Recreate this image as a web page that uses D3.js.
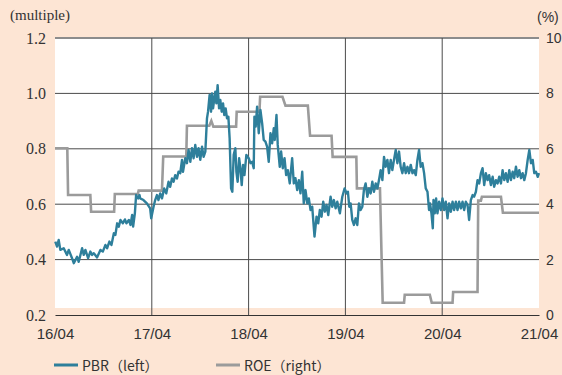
<!DOCTYPE html>
<html><head><meta charset="utf-8">
<script src="https://cdn.jsdelivr.net/npm/d3@7"></script>
<style>html,body{margin:0;padding:0;background:#fde5d4;}svg{display:block;}</style>
</head><body>
<svg id="c" width="562" height="375"></svg>
<script>
// ---- data (time as decimal year) ----
const xTickValues = [2016.25, 2017.25, 2018.25, 2019.25, 2020.25, 2021.25];
const xTickLabels = ["16/04", "17/04", "18/04", "19/04", "20/04", "21/04"];
const leftTicks = [0.2, 0.4, 0.6, 0.8, 1.0, 1.2];
const rightTicks = [0, 2, 4, 6, 8, 10];

const pbrPoints = [
[2016.253,0.465],[2016.271,0.447],[2016.288,0.471],[2016.305,0.435],[2016.340,0.441],[2016.374,0.417],[2016.392,0.435],[2016.426,0.405],[2016.444,0.387],[2016.478,0.410],
[2016.495,0.392],[2016.530,0.441],[2016.547,0.417],[2016.564,0.435],[2016.592,0.405],[2016.615,0.429],[2016.633,0.417],[2016.651,0.423],[2016.685,0.408],[2016.719,0.435],
[2016.744,0.429],[2016.771,0.453],[2016.788,0.441],[2016.812,0.465],[2016.833,0.453],[2016.858,0.495],[2016.874,0.489],[2016.892,0.531],[2016.909,0.519],[2016.926,0.543],
[2016.951,0.531],[2016.972,0.545],[2016.988,0.531],[2017.013,0.543],[2017.030,0.525],[2017.047,0.561],[2017.057,0.519],[2017.075,0.567],[2017.088,0.633],[2017.109,0.621],
[2017.123,0.633],[2017.130,0.621],[2017.164,0.615],[2017.199,0.603],[2017.233,0.585],[2017.244,0.549],[2017.268,0.591],[2017.285,0.615],[2017.303,0.633],[2017.319,0.615],
[2017.337,0.639],[2017.355,0.621],[2017.378,0.657],[2017.399,0.639],[2017.423,0.681],[2017.440,0.663],[2017.458,0.693],[2017.475,0.681],[2017.492,0.705],[2017.510,0.693],
[2017.526,0.717],[2017.544,0.712],[2017.562,0.760],[2017.572,0.717],[2017.596,0.766],[2017.613,0.748],[2017.630,0.796],[2017.648,0.753],[2017.665,0.802],[2017.682,0.766],
[2017.699,0.814],[2017.717,0.771],[2017.733,0.802],[2017.751,0.760],[2017.769,0.808],[2017.785,0.771],[2017.803,0.790],[2017.820,0.910],[2017.831,0.934],[2017.847,0.994],
[2017.862,0.934],[2017.872,1.000],[2017.883,0.946],[2017.896,0.982],[2017.906,1.006],[2017.917,0.964],[2017.930,1.030],[2017.945,0.946],[2017.958,0.976],[2017.972,0.934],
[2017.986,0.964],[2017.999,0.922],[2018.013,0.946],[2018.027,0.910],[2018.041,0.916],[2018.054,0.838],[2018.069,0.657],[2018.082,0.645],[2018.096,0.778],[2018.113,0.802],
[2018.124,0.717],[2018.137,0.681],[2018.152,0.766],[2018.165,0.730],[2018.179,0.669],[2018.193,0.742],[2018.207,0.705],[2018.227,0.778],[2018.251,0.766],[2018.269,0.748],
[2018.286,0.753],[2018.303,0.730],[2018.310,0.916],[2018.323,0.880],[2018.338,0.952],[2018.355,0.856],[2018.372,0.940],[2018.390,0.892],[2018.406,0.832],[2018.424,0.826],
[2018.441,0.808],[2018.458,0.753],[2018.476,0.856],[2018.493,0.820],[2018.510,0.874],[2018.520,0.832],[2018.538,0.922],[2018.551,0.814],[2018.572,0.735],[2018.586,0.790],
[2018.603,0.730],[2018.621,0.766],[2018.638,0.705],[2018.655,0.723],[2018.675,0.675],[2018.700,0.766],[2018.717,0.675],[2018.734,0.694],[2018.752,0.651],[2018.769,0.687],
[2018.786,0.639],[2018.804,0.717],[2018.820,0.603],[2018.838,0.651],[2018.856,0.603],[2018.872,0.621],[2018.890,0.579],[2018.907,0.591],[2018.931,0.483],[2018.952,0.555],
[2018.969,0.531],[2018.986,0.579],[2019.004,0.555],[2019.021,0.609],[2019.038,0.573],[2019.055,0.597],[2019.073,0.561],[2019.097,0.627],[2019.114,0.591],[2019.131,0.615],
[2019.149,0.585],[2019.166,0.609],[2019.193,0.567],[2019.218,0.627],[2019.242,0.657],[2019.262,0.639],[2019.276,0.645],[2019.290,0.591],[2019.304,0.603],[2019.321,0.543],
[2019.338,0.525],[2019.356,0.549],[2019.373,0.525],[2019.390,0.603],[2019.407,0.579],[2019.425,0.591],[2019.441,0.651],[2019.459,0.675],[2019.477,0.627],[2019.493,0.657],
[2019.511,0.639],[2019.528,0.681],[2019.545,0.645],[2019.563,0.675],[2019.580,0.657],[2019.597,0.687],[2019.614,0.723],[2019.632,0.687],[2019.649,0.771],[2019.666,0.735],
[2019.684,0.760],[2019.700,0.712],[2019.718,0.760],[2019.735,0.723],[2019.752,0.760],[2019.770,0.796],[2019.787,0.748],[2019.804,0.790],[2019.821,0.735],[2019.839,0.712],
[2019.856,0.748],[2019.873,0.712],[2019.891,0.735],[2019.907,0.712],[2019.925,0.742],[2019.943,0.712],[2019.959,0.723],[2019.977,0.705],[2019.994,0.760],[2020.011,0.796],
[2020.028,0.735],[2020.046,0.748],[2020.063,0.712],[2020.080,0.657],[2020.098,0.645],[2020.114,0.579],[2020.125,0.603],[2020.139,0.567],[2020.153,0.513],[2020.160,0.615],
[2020.173,0.567],[2020.187,0.621],[2020.201,0.567],[2020.218,0.609],[2020.236,0.579],[2020.253,0.621],[2020.270,0.579],[2020.287,0.609],[2020.305,0.549],[2020.321,0.603],
[2020.339,0.573],[2020.357,0.609],[2020.373,0.579],[2020.391,0.609],[2020.408,0.579],[2020.425,0.609],[2020.443,0.585],[2020.460,0.609],[2020.477,0.579],[2020.494,0.609],
[2020.512,0.597],[2020.528,0.543],[2020.546,0.615],[2020.564,0.633],[2020.580,0.627],[2020.598,0.645],[2020.615,0.687],[2020.632,0.675],[2020.650,0.712],[2020.667,0.730],
[2020.684,0.669],[2020.701,0.712],[2020.719,0.687],[2020.735,0.705],[2020.753,0.669],[2020.771,0.699],[2020.787,0.663],[2020.805,0.687],[2020.822,0.675],[2020.839,0.699],
[2020.857,0.675],[2020.874,0.723],[2020.891,0.687],[2020.908,0.712],[2020.926,0.681],[2020.943,0.723],[2020.960,0.687],[2020.978,0.717],[2020.994,0.694],[2021.012,0.735],
[2021.029,0.699],[2021.046,0.723],[2021.064,0.694],[2021.081,0.712],[2021.098,0.687],[2021.115,0.712],[2021.133,0.760],[2021.150,0.796],[2021.167,0.748],[2021.185,0.760],
[2021.201,0.712],[2021.219,0.717],[2021.237,0.699],[2021.250,0.712]
];

const roePoints = [
[2016.250,6.02],[2016.377,6.02],[2016.385,4.33],[2016.615,4.33],[2016.623,3.73],[2016.861,3.73],[2016.868,4.37],[2017.106,4.37],[2017.114,4.49],[2017.355,4.49],
[2017.368,5.72],[2017.606,5.72],[2017.613,6.83],[2017.844,6.83],[2017.865,7.01],[2017.886,6.80],[2018.121,6.80],[2018.127,7.34],[2018.362,7.34],[2018.369,7.88],
[2018.600,7.88],[2018.631,7.56],[2018.862,7.56],[2018.885,6.47],[2019.107,6.47],[2019.118,5.71],[2019.363,5.71],[2019.369,4.57],[2019.607,4.57],[2019.635,0.44],
[2019.856,0.44],[2019.863,0.73],[2020.122,0.73],[2020.142,0.44],[2020.357,0.44],[2020.363,0.83],[2020.615,0.83],[2020.622,4.13],[2020.650,4.13],[2020.660,4.27],
[2020.857,4.27],[2020.877,3.69],[2021.250,3.69]
];

const legendItems = [
  {label: "PBR（left）", color: "#2e7f9b"},
  {label: "ROE（right）", color: "#9b9b9b"}
];

// ---- layout ----
const L = 55, R = 539, T = 38, B = 315, whiteBottom = 308;
const svg = d3.select("#c");
const x = d3.scaleLinear().domain([2016.25, 2021.25]).range([L, R]);
const yL = d3.scaleLinear().domain([0.2, 1.2]).range([B, T]);
const yR = d3.scaleLinear().domain([0, 10]).range([B, T]);

svg.append("rect").attr("x", 0).attr("y", 0).attr("width", 562).attr("height", 375).attr("fill", "#fde5d4");
svg.append("rect").attr("x", L).attr("y", T).attr("width", R - L).attr("height", whiteBottom - T).attr("fill", "#ffffff");

// horizontal grid
svg.append("g").selectAll("line").data(leftTicks.filter(d => d > 0.2 && d < 1.2)).join("line")
  .attr("x1", L).attr("x2", R).attr("y1", d => yL(d)).attr("y2", d => yL(d))
  .attr("stroke", "#4a4a4a").attr("stroke-width", 1);
svg.append("line").attr("x1", L).attr("x2", R).attr("y1", yL(1.2)).attr("y2", yL(1.2))
  .attr("stroke", "#8c8c8c").attr("stroke-width", 2);
// vertical grid
svg.append("g").selectAll("line").data(xTickValues.slice(1, -1)).join("line")
  .attr("x1", d => x(d)).attr("x2", d => x(d)).attr("y1", T).attr("y2", B)
  .attr("stroke", "#4a4a4a").attr("stroke-width", 1);

// bottom axis
const xAxis = d3.axisBottom(x).tickValues(xTickValues).tickFormat((d, i) => xTickLabels[i]).tickSize(0).tickPadding(13);
const gx = svg.append("g").attr("transform", `translate(0,${B})`).call(xAxis);
gx.select(".domain").attr("stroke", "#333").attr("stroke-width", 1.2);
gx.selectAll("text").attr("font-family", "'Liberation Sans', Arial, sans-serif").attr("font-size", 15).attr("fill", "#333");

// left axis
const yAxisL = d3.axisLeft(yL).tickValues(leftTicks).tickFormat(d3.format(".1f")).tickSize(0).tickPadding(9);
const gyl = svg.append("g").attr("transform", `translate(${L},0)`).call(yAxisL);
gyl.select(".domain").remove();
gyl.selectAll("text").attr("font-family", "'Liberation Serif', 'DejaVu Serif', serif").attr("font-size", 16).attr("fill", "#333");

// right axis
const yAxisR = d3.axisRight(yR).tickValues(rightTicks).tickFormat(d3.format("d")).tickSize(0).tickPadding(7);
const gyr = svg.append("g").attr("transform", `translate(${R},0)`).call(yAxisR);
gyr.select(".domain").remove();
gyr.selectAll("text").attr("font-family", "'Liberation Sans', Arial, sans-serif").attr("font-size", 14).attr("fill", "#333");

// unit labels
svg.append("text").attr("x", 10).attr("y", 20).text("(multiple)")
  .attr("font-family", "'Liberation Serif', serif").attr("font-size", 15).attr("fill", "#333");
svg.append("text").attr("x", 537).attr("y", 22).text("(%)")
  .attr("font-family", "'Liberation Sans', Arial, sans-serif").attr("font-size", 14).attr("fill", "#333");

// series
const lineR = d3.line().x(d => x(d[0])).y(d => yR(d[1]));
const lineL = d3.line().x(d => x(d[0])).y(d => yL(d[1]));
svg.append("path").datum(roePoints).attr("d", lineR).attr("fill", "none")
  .attr("stroke", legendItems[1].color).attr("stroke-width", 2.6).attr("stroke-linejoin", "miter");
svg.append("path").datum(pbrPoints).attr("d", lineL).attr("fill", "none")
  .attr("stroke", legendItems[0].color).attr("stroke-width", 2.4).attr("stroke-linejoin", "round");

// legend
const lg = svg.append("g");
const legendX = [54, 216];
legendItems.forEach((it, i) => {
  const g = lg.append("g").attr("transform", `translate(${legendX[i]},365)`);
  g.append("line").attr("x1", 0).attr("x2", 24).attr("y1", 0).attr("y2", 0).attr("stroke", it.color).attr("stroke-width", 3);
  g.append("text").attr("x", 28).attr("y", 6).text(it.label)
    .attr("font-family", "'Noto Sans CJK JP', 'Noto Sans', sans-serif").attr("font-size", 14).attr("fill", "#333");
});
</script>
</body></html>
